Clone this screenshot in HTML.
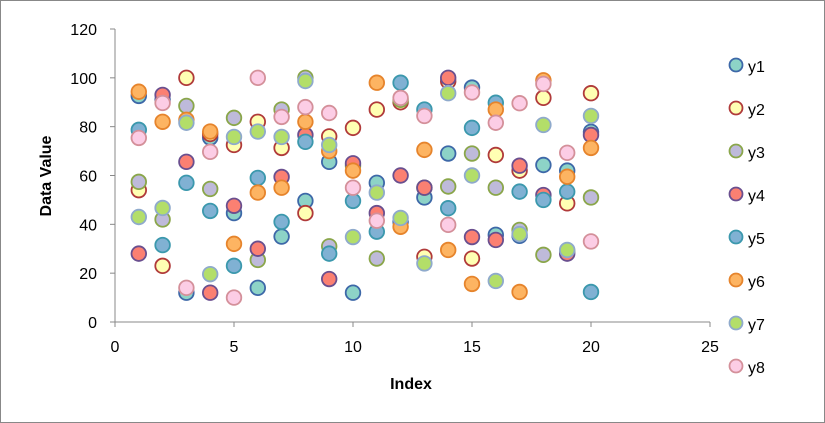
<!DOCTYPE html>
<html><head><meta charset="utf-8"><style>
body{margin:0;background:#fff;font-family:"Liberation Sans",sans-serif}
svg{display:block}
</style></head><body>
<svg id="chart" width="825" height="423" xmlns="http://www.w3.org/2000/svg">
<rect x="0.5" y="0.5" width="824" height="422" fill="#fff" stroke="#888"/>
<g id="axes"></g><g id="marks"></g><g id="legend"></g>
</svg>
<script>
const xs=[1,2,3,4,5,6,7,8,9,10,11,12,13,14,15,16,17,18,19,20];
const y1=[92.6,91,12,75.5,44.6,14,35,49.6,65.6,12,57,41,51,69,96,35.7,35.3,64.3,62,77.9];
const y2=[54,23,100,77,72.5,82,71.3,44.6,76,79.5,87,90,26.7,98.6,26,68.4,62,91.8,48.6,93.7];
const y3=[57.4,42,88.5,54.5,83.6,25.4,87,100,31,64,26,91,55,55.5,69,55,37.7,27.5,29,51];
const y4=[28,93,65.6,12,47.6,30,59.4,76.6,17.6,65,44.6,60,55,100,34.8,33.6,64,52,28,76.6];
const y5=[78.7,31.5,57,45.5,23,59,41,73.8,28,49.6,37,98,87,46.6,79.5,89.8,53.4,50,53.4,12.3];
const y6=[94.3,82,82.8,78,32,53,55,82,70,62,98,39,70.5,29.5,15.6,87,12.3,99,59.5,71.3];
const y7=[43,46.7,81.6,19.6,75.8,78,75.8,98.7,72.5,34.8,53,42.6,24,93.7,60,16.8,36,80.7,29.5,84.4];
const y8=[75.4,89.7,14,69.7,10,100,84,88,85.6,55,41.5,91.8,84.4,39.8,94,81.6,89.6,97.5,69.3,33];
const seriesNames=["y1","y2","y3","y4","y5","y6","y7","y8"];
const xTicks=[0,5,10,15,20,25];
const yTicks=[0,20,40,60,80,100,120];
const fills=["#8dd3c7","#ffffb3","#bebada","#fb8072","#80b1d3","#fdb462","#b3de69","#fccde5"];
const strokes=["#3d68a8","#b03a3a","#8aa64a","#6a4f8f","#3b98ad","#e6842c","#8faacc","#d4909a"];
const NS="http://www.w3.org/2000/svg";
const X0=115,X1=710,Y0=322,Y1=29;
const sx=v=>X0+(v-0)/(25-0)*(X1-X0);
const sy=v=>Y0-(v-0)/(120-0)*(Y0-Y1);
function mk(tag,attrs,parent){const e=document.createElementNS(NS,tag);for(const k in attrs)e.setAttribute(k,attrs[k]);parent.appendChild(e);return e;}
const axes=document.getElementById('axes'),marks=document.getElementById('marks'),legend=document.getElementById('legend');
let l=mk('line',{x1:X0,y1:Y1,x2:X0,y2:Y0,stroke:'#888'},axes);

l=mk('line',{x1:X0,y1:Y0,x2:X1,y2:Y0,stroke:'#888'},axes);

yTicks.forEach(t=>{
 const tk=mk('line',{x1:X0-5,y1:sy(t),x2:X0,y2:sy(t),stroke:'#888'},axes);
 
 const tx=mk('text',{x:X0-18,y:sy(t)+6,'text-anchor':'end','font-size':'16',fill:'#000'},axes);
 tx.textContent=t;
});
xTicks.forEach(t=>{
 const tk=mk('line',{x1:sx(t),y1:Y0,x2:sx(t),y2:Y0+5,stroke:'#888'},axes);
 
 const tx=mk('text',{x:sx(t),y:Y0+30,'text-anchor':'middle','font-size':'16',fill:'#000'},axes);
 tx.textContent=t;
});
let tt=mk('text',{x:411,y:389,'text-anchor':'middle','font-size':'16','font-weight':'bold'},axes);
tt.textContent='Index';
tt=mk('text',{x:51,y:176,'text-anchor':'middle','font-size':'16','font-weight':'bold',transform:'rotate(-90 51 176)'},axes);
tt.textContent='Data Value';
const all=[y1,y2,y3,y4,y5,y6,y7,y8];
all.forEach((ser,si)=>{
 ser.forEach((v,i)=>{
  const c=mk('circle',{cx:sx(xs[i]),cy:sy(v),r:7.3,fill:fills[si],stroke:strokes[si],'stroke-width':1.8},marks);
  
  
 });
 const ly=65+si*43;
 const lc=mk('circle',{cx:736,cy:ly,r:6.5,fill:fills[si],stroke:strokes[si],'stroke-width':1.8},legend);
 
 
 const lt=mk('text',{x:748,y:ly+7,'font-size':'16'},legend);
 lt.textContent=seriesNames[si];
 
 
});
</script>
</body></html>
